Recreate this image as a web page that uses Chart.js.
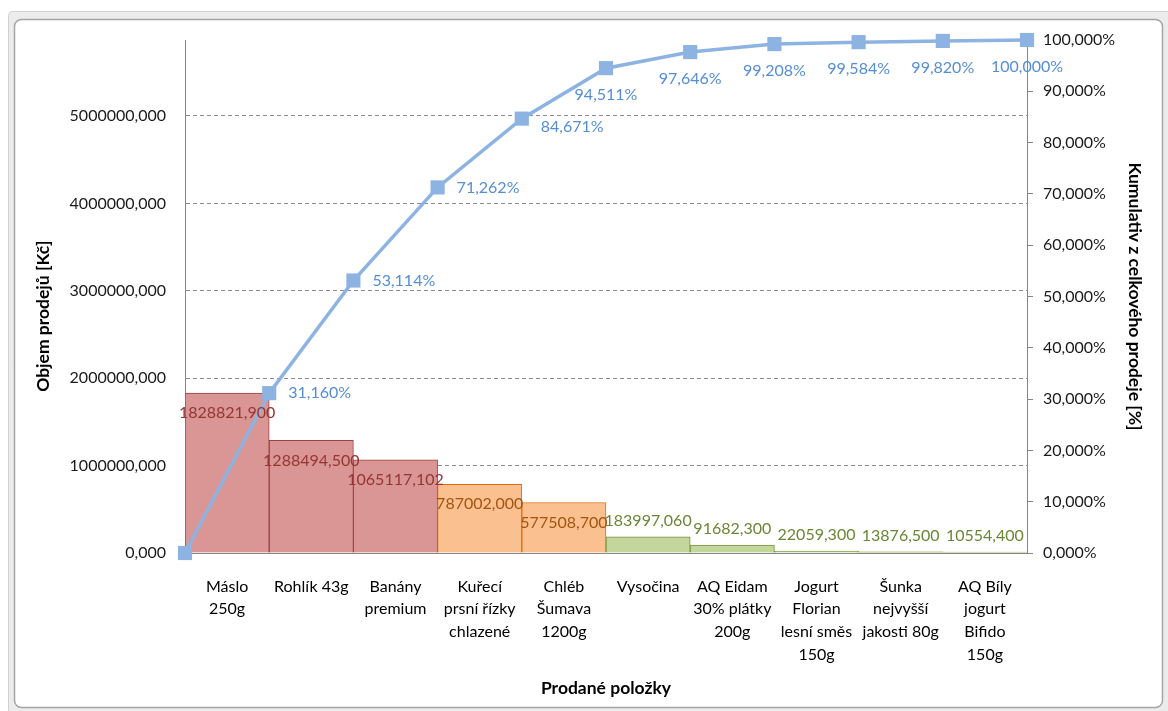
<!DOCTYPE html>
<html>
<head>
<meta charset="utf-8">
<script src="https://cdn.jsdelivr.net/npm/chart.js@4.4.1/dist/chart.umd.min.js"></script>
<style>
  html, body { margin: 0; padding: 0; background: #fff; }
  canvas { display: block; }
</style>
</head>
<body>
<canvas id="pareto" width="1168" height="711"></canvas>
<script>
// Data
const categories = [
  ['Máslo', '250g'],
  ['Rohlík 43g'],
  ['Banány', 'premium'],
  ['Kuřecí', 'prsní řízky', 'chlazené'],
  ['Chléb', 'Šumava', '1200g'],
  ['Vysočina'],
  ['AQ Eidam', '30% plátky', '200g'],
  ['Jogurt', 'Florian', 'lesní směs', '150g'],
  ['Šunka', 'nejvyšší', 'jakosti 80g'],
  ['AQ Bíly', 'jogurt', 'Bifido', '150g']
];
const salesValues = [1828821.900, 1288494.500, 1065117.102, 787002.000, 577508.700,
                     183997.060, 91682.300, 22059.300, 13876.500, 10554.400];
const cumulativePercent = [0, 31.160, 53.114, 71.262, 84.671, 94.511,
                           97.646, 99.208, 99.584, 99.820, 100.000];
const itemGroups = ['A', 'A', 'A', 'B', 'B', 'C', 'C', 'C', 'C', 'C'];
const leftTicks = [0, 1000000, 2000000, 3000000, 4000000, 5000000];
const rightTicks = [0, 10, 20, 30, 40, 50, 60, 70, 80, 90, 100];

// styles
const groupFill = { A: '#d99694', B: '#fac090', C: '#c3d69b' };
const groupBorder = { A: '#a0403e', B: '#e46c0a', C: '#77933c' };
const groupLabel = { A: '#943634', B: '#a5540f', C: '#6b8635' };
const lineColor = '#8db3e2';
const lineLabelColor = '#558ed5';
const axisColor = '#868686';
const titleFont = { size: 17.5, weight: 'bold' };
// where each cumulative label sits relative to its point
const lineLabelPlace = ['none', 'right', 'right', 'right', 'rightLow',
                        'below', 'below', 'below', 'below', 'below', 'below'];

const totalSales = salesValues.reduce((a, b) => a + b, 0);
const fmt = v => v.toFixed(3).replace('.', ',');

Chart.defaults.font.family = 'Lato, "Open Sans", sans-serif';
Chart.defaults.font.size = 16;
Chart.defaults.color = '#1a1a1a';

// frame like the spreadsheet chart object
const framePlugin = {
  id: 'frame',
  beforeDraw(chart) {
    const c = chart.ctx;
    c.save();
    c.fillStyle = '#ffffff';
    c.fillRect(0, 0, chart.width, chart.height);
    c.fillStyle = '#ececec';
    c.strokeStyle = '#d0d0d0';
    c.lineWidth = 1;
    c.beginPath();
    c.roundRect(8.5, 11.5, 1170, 710, 4);
    c.fill();
    c.stroke();
    c.fillStyle = '#ffffff';
    c.strokeStyle = '#a5a5a5';
    c.lineWidth = 1.5;
    c.beginPath();
    c.roundRect(14.5, 19.5, 1148, 688, 7);
    c.fill();
    c.stroke();
    c.restore();
  }
};

// value labels for bars and cumulative line
const labelPlugin = {
  id: 'valueLabels',
  afterDatasetsDraw(chart) {
    const c = chart.ctx;
    c.save();
    c.font = '16px Lato, "Open Sans", sans-serif';
    c.textBaseline = 'middle';

    const bars = chart.getDatasetMeta(1).data;
    bars.forEach((bar, i) => {
      const g = itemGroups[i];
      c.fillStyle = groupLabel[g];
      c.textAlign = 'center';
      const y = g === 'C' ? bar.y - 16 : bar.y + 20;
      c.fillText(fmt(salesValues[i]), bar.x, y);
    });

    const pts = chart.getDatasetMeta(0).data;
    c.fillStyle = lineLabelColor;
    pts.forEach((p, i) => {
      const place = lineLabelPlace[i];
      const txt = fmt(cumulativePercent[i]) + '%';
      if (place === 'right') {
        c.textAlign = 'left';
        c.fillText(txt, p.x + 19, p.y);
      } else if (place === 'rightLow') {
        c.textAlign = 'left';
        c.fillText(txt, p.x + 19, p.y + 8);
      } else if (place === 'below') {
        c.textAlign = 'center';
        c.fillText(txt, p.x, p.y + 27);
      }
    });
    c.restore();
  }
};

const ctx = document.getElementById('pareto').getContext('2d');
new Chart(ctx, {
  data: {
    labels: categories,
    datasets: [{
      type: 'line',
      label: 'Kumulativ',
      data: cumulativePercent.map((v, i) => ({ x: i, y: v })),
      xAxisID: 'xl',
      yAxisID: 'y1',
      borderColor: lineColor,
      borderWidth: 3.5,
      pointStyle: 'rect',
      pointRadius: 10,
      pointBackgroundColor: lineColor,
      pointBorderWidth: 0,
      tension: 0,
      clip: false,
      order: 0
    }, {
      type: 'bar',
      label: 'Objem prodejů',
      data: salesValues,
      xAxisID: 'x',
      yAxisID: 'y',
      backgroundColor: itemGroups.map(g => groupFill[g]),
      borderColor: itemGroups.map(g => groupBorder[g]),
      borderWidth: 1,
      barPercentage: 1,
      categoryPercentage: 1,
      grouped: false,
      order: 1
    }]
  },
  options: {
    responsive: false,
    animation: false,
    devicePixelRatio: 1,
    layout: { padding: { left: 28, right: 18, top: 40, bottom: 10 } },
    plugins: {
      legend: { display: false },
      tooltip: { enabled: false }
    },
    scales: {
      x: {
        type: 'category',
        position: 'bottom',
        offset: true,
        grid: { display: false },
        border: { display: true, color: axisColor },
        ticks: {
          color: '#000',
          padding: 14,
          autoSkip: false,
          maxRotation: 0,
          font: { size: 16, lineHeight: 1.42 }
        },
        title: {
          display: true,
          text: 'Prodané položky',
          color: '#000',
          font: titleFont,
          padding: { top: 0, bottom: 2.5 }
        },
        afterFit: s => { s.height = 148; }
      },
      xl: {
        type: 'linear',
        display: false,
        min: 0,
        max: categories.length
      },
      y: {
        position: 'left',
        min: 0,
        max: totalSales,
        afterBuildTicks: s => { s.ticks = leftTicks.map(v => ({ value: v })); },
        grid: {
          color: c => (c.tick && c.tick.value === 0) ? 'rgba(0,0,0,0)' : '#8c8c8c',
          drawTicks: false
        },
        border: { display: true, color: axisColor, dash: [4, 3] },
        ticks: {
          padding: 19,
          callback: v => fmt(v)
        },
        title: {
          display: true,
          // trailing em spaces push the title a bit lower, as in the original
          text: 'Objem prodejů [Kč]\u2003\u2003\u2003',
          color: '#000',
          font: titleFont,
          padding: { top: 4.5, bottom: 0 }
        },
        afterFit: s => { s.width = 157; }
      },
      y1: {
        position: 'right',
        min: 0,
        max: 100,
        afterBuildTicks: s => { s.ticks = rightTicks.map(v => ({ value: v })); },
        grid: {
          drawOnChartArea: false,
          drawTicks: true,
          tickLength: 6,
          color: axisColor
        },
        border: { display: true, color: axisColor },
        ticks: {
          padding: 10,
          callback: v => fmt(v) + '%'
        },
        title: {
          display: true,
          text: 'Kumulativ z celkového prodeje [%]',
          color: '#000',
          font: titleFont,
          padding: { top: 4.5, bottom: 0 }
        },
        afterFit: s => { s.width = 123; }
      }
    }
  },
  plugins: [framePlugin, labelPlugin]
});
</script>
</body>
</html>
